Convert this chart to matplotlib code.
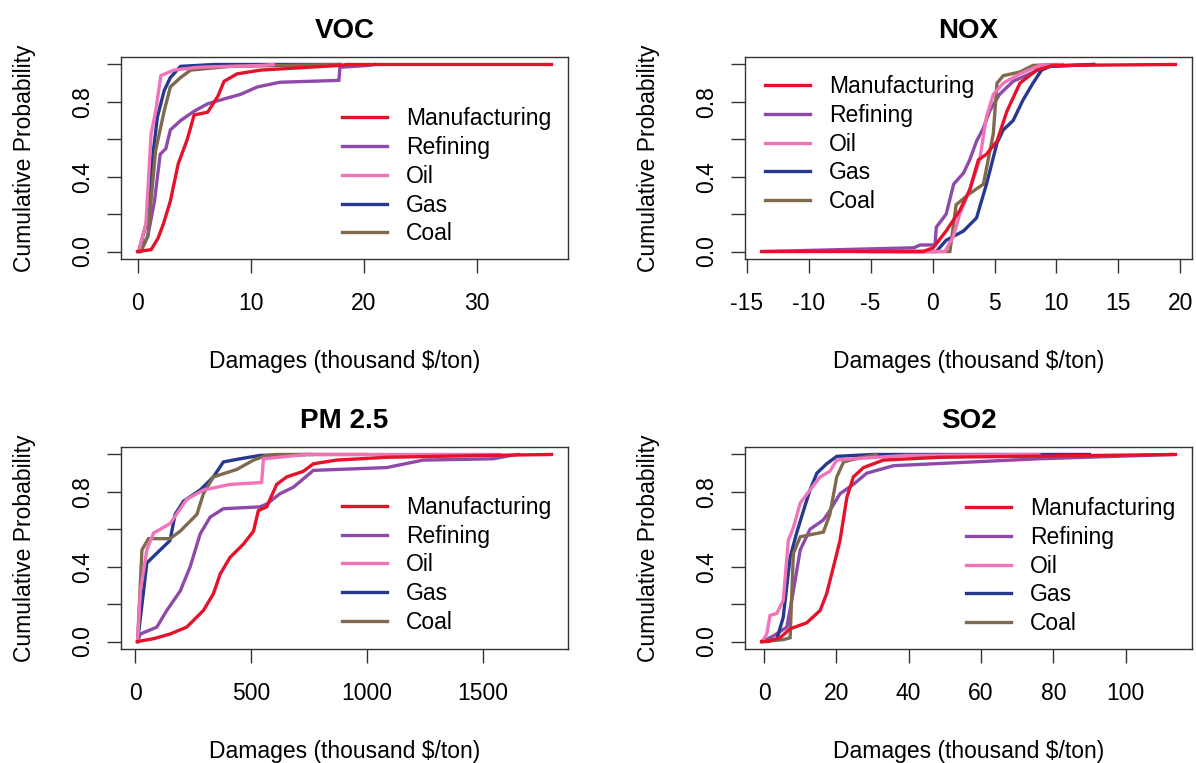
import matplotlib
matplotlib.use("Agg")
import matplotlib.pyplot as plt

plt.rcParams["font.family"] = ["Liberation Sans", "DejaVu Sans"]
plt.rcParams["axes.unicode_minus"] = False

SECTORS = ["Manufacturing", "Refining", "Oil", "Gas", "Coal"]
COLORS = ["#e4132b", "#8e4aa8", "#f274b8", "#27398f", "#806a4e"]
# red is drawn on top in the original
ZORDERS = [6, 2, 5, 3, 4]

# ---- VOC (thousand $/ton vs cumulative probability)
VOC_MFG_X = [0.0, 1.2, 1.8, 2.3, 2.9, 3.6, 4.4, 5.0, 6.2, 7.1, 7.65, 8.8, 10.9, 17.9, 18.5, 36.6]
VOC_MFG_Y = [0.0, 0.01, 0.07, 0.15, 0.27, 0.47, 0.6, 0.73, 0.745, 0.83, 0.91, 0.95, 0.97, 0.995, 1.0, 1.0]
VOC_REF_X = [0.1, 0.9, 1.5, 2.0, 2.5, 2.9, 3.8, 5.0, 6.2, 7.9, 9.1, 10.6, 12.6, 17.8, 17.9, 20.4, 21.0]
VOC_REF_Y = [0.0, 0.08, 0.27, 0.52, 0.55, 0.65, 0.70, 0.75, 0.79, 0.82, 0.84, 0.88, 0.905, 0.915, 0.985, 0.995, 1.0]
VOC_OIL_X = [0.1, 0.74, 1.2, 1.6, 2.06, 3.2, 5.3, 11.0, 12.0]
VOC_OIL_Y = [0.0, 0.15, 0.63, 0.75, 0.94, 0.97, 0.985, 0.995, 1.0]
VOC_GAS_X = [0.1, 0.9, 1.3, 1.76, 2.35, 2.9, 3.8, 6.8, 17.9]
VOC_GAS_Y = [0.0, 0.18, 0.49, 0.72, 0.86, 0.93, 0.99, 1.0, 1.0]
VOC_COAL_X = [0.3, 0.9, 1.6, 2.35, 2.9, 3.8, 4.7, 8.2, 17.9]
VOC_COAL_Y = [0.0, 0.08, 0.54, 0.75, 0.88, 0.93, 0.97, 0.99, 1.0]

# ---- NOX
NOX_MFG_X = [-13.8, -0.75, 0.05, 1.1, 2.2, 3.0, 3.7, 4.35, 5.2, 6.0, 7.05, 8.4, 9.7, 19.6]
NOX_MFG_Y = [0.0, 0.0, 0.02, 0.11, 0.22, 0.33, 0.49, 0.52, 0.59, 0.75, 0.90, 0.97, 0.995, 1.0]
NOX_REF_X = [-13.5, -7.5, -1.5, -1.0, 0.2, 0.3, 1.1, 1.7, 2.5, 3.0, 3.55, 4.1, 4.6, 5.4, 6.5, 7.85, 9.2, 13.0]
NOX_REF_Y = [0.0, 0.01, 0.02, 0.035, 0.035, 0.13, 0.20, 0.36, 0.42, 0.49, 0.59, 0.66, 0.75, 0.84, 0.91, 0.95, 0.99, 1.0]
NOX_OIL_X = [-6.0, 1.0, 1.67, 2.2, 3.0, 3.8, 4.35, 4.9, 5.7, 7.05, 8.65, 10.5]
NOX_OIL_Y = [0.0, 0.0, 0.08, 0.20, 0.33, 0.49, 0.72, 0.84, 0.90, 0.95, 0.995, 1.0]
NOX_GAS_X = [-5.0, 0.3, 1.1, 2.5, 3.55, 4.35, 5.2, 5.7, 6.5, 7.3, 8.1, 8.8, 9.5, 13.0]
NOX_GAS_Y = [0.0, 0.0, 0.06, 0.11, 0.18, 0.36, 0.58, 0.65, 0.70, 0.81, 0.90, 0.97, 0.99, 1.0]
NOX_COAL_X = [-3.0, 1.4, 1.9, 3.0, 4.1, 4.9, 5.2, 5.7, 7.05, 8.1, 10.0]
NOX_COAL_Y = [0.0, 0.0, 0.25, 0.31, 0.36, 0.63, 0.90, 0.94, 0.96, 0.995, 1.0]

# ---- PM 2.5
PM_MFG_X = [10, 79, 150, 222, 294, 337, 366, 409, 466, 510, 531, 567, 610, 653, 725, 768, 868, 1084, 1514, 1795]
PM_MFG_Y = [0.0, 0.015, 0.04, 0.077, 0.166, 0.255, 0.36, 0.45, 0.52, 0.59, 0.70, 0.72, 0.84, 0.88, 0.91, 0.95, 0.97, 0.985, 0.995, 1.0]
PM_REF_X = [10, 22, 93, 136, 194, 237, 280, 323, 380, 538, 567, 624, 682, 754, 768, 1084, 1242, 1543, 1622, 1650]
PM_REF_Y = [0.0, 0.04, 0.077, 0.166, 0.27, 0.40, 0.575, 0.665, 0.71, 0.72, 0.735, 0.79, 0.825, 0.90, 0.915, 0.93, 0.97, 0.977, 0.995, 1.0]
PM_OIL_X = [10, 22, 50, 79, 150, 222, 294, 409, 545, 553, 740, 1570]
PM_OIL_Y = [0.0, 0.27, 0.49, 0.58, 0.63, 0.76, 0.81, 0.84, 0.85, 0.977, 1.0, 1.0]
PM_GAS_X = [10, 36, 50, 108, 150, 172, 208, 280, 337, 380, 452, 538, 740, 760]
PM_GAS_Y = [0.0, 0.27, 0.42, 0.49, 0.54, 0.68, 0.75, 0.81, 0.88, 0.96, 0.977, 0.995, 1.0, 1.0]
PM_COAL_X = [10, 29, 57, 150, 194, 266, 294, 337, 438, 510, 567, 610, 1000]
PM_COAL_Y = [0.0, 0.49, 0.55, 0.55, 0.59, 0.68, 0.79, 0.88, 0.92, 0.97, 0.995, 1.0, 1.0]

# ---- SO2
SO2_MFG_X = [-0.7, 1.1, 4.4, 7.2, 11.8, 15.5, 17.3, 19.2, 21.0, 22.9, 24.7, 27.5, 33.0, 48.7, 113.8]
SO2_MFG_Y = [0.0, 0.0, 0.02, 0.068, 0.10, 0.166, 0.255, 0.40, 0.54, 0.77, 0.88, 0.93, 0.97, 0.985, 1.0]
SO2_REF_X = [-0.5, 2.6, 6.3, 8.1, 10.0, 12.7, 16.4, 18.2, 21.0, 24.7, 28.4, 35.8, 76.0, 113.0]
SO2_REF_Y = [0.0, 0.03, 0.077, 0.27, 0.49, 0.60, 0.65, 0.70, 0.79, 0.84, 0.90, 0.94, 0.977, 1.0]
SO2_OIL_X = [-0.5, 0.74, 1.66, 3.5, 5.3, 6.7, 8.1, 10.0, 12.7, 15.5, 18.2, 20.1, 24.7, 39.4, 76.0]
SO2_OIL_Y = [0.0, 0.04, 0.14, 0.15, 0.22, 0.54, 0.61, 0.74, 0.81, 0.88, 0.91, 0.97, 0.977, 0.995, 1.0]
SO2_GAS_X = [-0.5, 3.5, 5.3, 7.2, 9.0, 10.9, 12.7, 14.6, 17.3, 20.1, 30.0, 90.0]
SO2_GAS_Y = [0.0, 0.01, 0.13, 0.45, 0.58, 0.70, 0.81, 0.90, 0.95, 0.99, 1.0, 1.0]
SO2_COAL_X = [-0.5, 5.3, 7.2, 8.1, 10.0, 16.4, 18.2, 20.1, 22.0, 23.8, 31.0]
SO2_COAL_Y = [0.0, 0.01, 0.02, 0.47, 0.56, 0.585, 0.68, 0.88, 0.96, 0.97, 1.0]

VOC_XTICKS = [0, 10, 20, 30]
NOX_XTICKS = [-15, -10, -5, 0, 5, 10, 15, 20]
PM_XTICKS = [0, 500, 1000, 1500]
SO2_XTICKS = [0, 20, 40, 60, 80, 100]
Y_TICKS = [0.0, 0.2, 0.4, 0.6, 0.8, 1.0]
Y_TICKLABELS = ["0.0", "", "0.4", "", "0.8", ""]

FS = 16.5


def draw_panel(ax, title, series, xticks, legend_anchor):
    for (xs, ys), name, color, z in zip(series, SECTORS, COLORS, ZORDERS):
        ax.plot(xs, ys, color=color, lw=2.4, label=name, zorder=z,
                solid_joinstyle="miter")
    ax.margins(x=0.04, y=0.04)
    ax.set_xticks(xticks)
    ax.set_yticks(Y_TICKS)
    ax.set_yticklabels(Y_TICKLABELS)
    ax.tick_params(direction="out", length=10, width=1, labelsize=FS,
                   color="#333333")
    ax.tick_params(axis="x", pad=14)
    ax.tick_params(axis="y", pad=9, labelrotation=90)
    for lab in ax.get_yticklabels():
        lab.set_va("center")
    for sp in ax.spines.values():
        sp.set_linewidth(1.0)
        sp.set_color("#333333")

    ax.set_title(title, fontsize=20, fontweight="bold", pad=13.5)
    ax.set_xlabel("Damages (thousand $/ton)", fontsize=FS, va="baseline")
    ax.xaxis.set_label_coords(0.5, -0.54)
    ax.set_ylabel("Cumulative Probability", fontsize=FS)
    ax.yaxis.set_label_coords(-0.19, 0.5)

    handles, labels = ax.get_legend_handles_labels()
    ax.legend(handles, labels, loc="upper left", bbox_to_anchor=legend_anchor,
              frameon=False, fontsize=FS, handlelength=1.95,
              handletextpad=0.85, labelspacing=0.25, borderpad=0,
              borderaxespad=0)


fig = plt.figure(figsize=(11.96, 7.63), dpi=100)
W, H = 1196, 763
ax_w = 447 / W
ax_h = 202 / H
ax_voc = fig.add_axes([121 / W, 1 - 259 / H, ax_w, ax_h])
ax_nox = fig.add_axes([745 / W, 1 - 259 / H, ax_w, ax_h])
ax_pm = fig.add_axes([121 / W, 1 - 649 / H, ax_w, ax_h])
ax_so2 = fig.add_axes([745 / W, 1 - 649 / H, ax_w, ax_h])

draw_panel(ax_voc, "VOC",
           [(VOC_MFG_X, VOC_MFG_Y), (VOC_REF_X, VOC_REF_Y), (VOC_OIL_X, VOC_OIL_Y),
            (VOC_GAS_X, VOC_GAS_Y), (VOC_COAL_X, VOC_COAL_Y)],
           VOC_XTICKS, (0.494, 0.75))
draw_panel(ax_nox, "NOX",
           [(NOX_MFG_X, NOX_MFG_Y), (NOX_REF_X, NOX_REF_Y), (NOX_OIL_X, NOX_OIL_Y),
            (NOX_GAS_X, NOX_GAS_Y), (NOX_COAL_X, NOX_COAL_Y)],
           NOX_XTICKS, (0.045, 0.91))
draw_panel(ax_pm, "PM 2.5",
           [(PM_MFG_X, PM_MFG_Y), (PM_REF_X, PM_REF_Y), (PM_OIL_X, PM_OIL_Y),
            (PM_GAS_X, PM_GAS_Y), (PM_COAL_X, PM_COAL_Y)],
           PM_XTICKS, (0.494, 0.758))
draw_panel(ax_so2, "SO2",
           [(SO2_MFG_X, SO2_MFG_Y), (SO2_REF_X, SO2_REF_Y), (SO2_OIL_X, SO2_OIL_Y),
            (SO2_GAS_X, SO2_GAS_Y), (SO2_COAL_X, SO2_COAL_Y)],
           SO2_XTICKS, (0.494, 0.751))

fig.savefig("out.png", dpi=100)
